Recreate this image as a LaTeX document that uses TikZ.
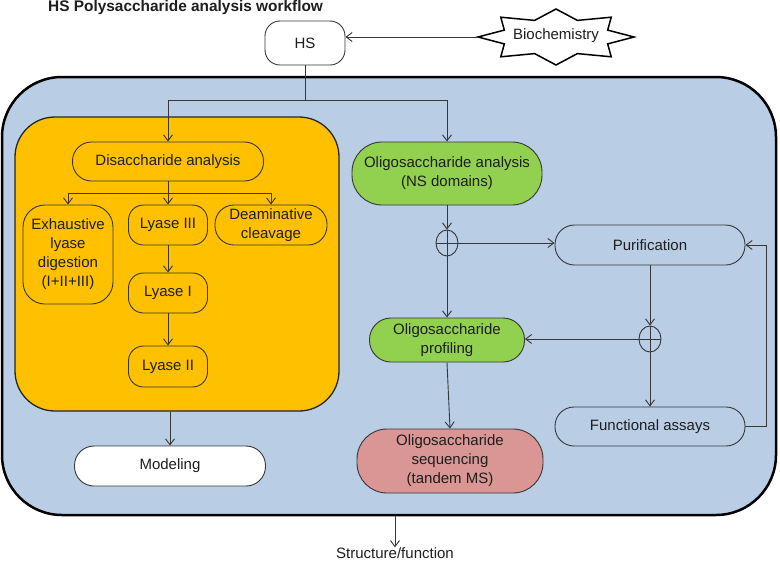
\documentclass[tikz,border=0pt]{standalone}
\usepackage{fontspec}
\setmainfont{Liberation Sans}
\usetikzlibrary{arrows.meta,shapes.geometric,calc}
\definecolor{bluebg}{RGB}{185,205,229}
\definecolor{orangebg}{RGB}{255,192,0}
\definecolor{greenbg}{RGB}{146,208,80}
\definecolor{rosebg}{RGB}{217,150,148}
\definecolor{linegray}{RGB}{55,55,55}
\definecolor{txt}{RGB}{30,30,30}
\begin{document}
\begin{tikzpicture}[x=1pt,y=-1pt,
  every node/.style={font=\fontsize{15}{19}\selectfont, text=txt, align=center, inner sep=0pt},
  box/.style={draw=linegray, line width=0.9pt, rectangle, rounded corners=#1},
  box/.default=19.5pt,
  conn/.style={draw=linegray, line width=0.9pt},
  arr/.style={conn, -{Straight Barb[length=6pt,width=9pt]}},
  plus/.style={draw=linegray, line width=0.9pt, ellipse, minimum width=22pt, minimum height=26pt}
]
\useasboundingbox (0,0) rectangle (780,563);

% title
\node[font=\bfseries\fontsize{15.4}{18}\selectfont, anchor=base west] (title) at (48,11) {HS Polysaccharide analysis workflow};

% background containers
\node[draw=black, line width=2.5pt, fill=bluebg, rounded corners=60pt, minimum width=774pt, minimum height=438pt] (blue) at (389,296) {};
\node[draw=black!85, line width=1.3pt, fill=orangebg, rounded corners=40pt, minimum width=324pt, minimum height=294pt] (orange) at (177,264) {};

% HS and Biochemistry
\node[box=15pt, fill=white, minimum width=80pt, minimum height=44pt] (hs) at (305,43) {HS};
\draw[black, line width=1.5pt, fill=white]
  (634,37) -- (607.7,43.9) -- (611.2,56.8) -- (577.4,53.6) -- (556,65)
  -- (534.6,53.6) -- (500.8,56.8) -- (504.3,43.9) -- (478,37)
  -- (504.3,30.1) -- (500.8,17.2) -- (534.6,20.4) -- (556,9)
  -- (577.4,20.4) -- (611.2,17.2) -- (607.7,30.1) -- cycle;
\node (bio) at (556,36) {Biochemistry};
\coordinate (biotip) at (478,37);
\draw[arr] (biotip) -- (biotip -| hs.east);

% left branch: disaccharide analysis
\node[box=19pt, minimum width=191pt, minimum height=39pt] (disacc) at (168,161.5) {Disaccharide analysis};
\node[box=22pt, minimum width=90pt, minimum height=99pt] (exh) at (68,254.5) {Exhaustive\\lyase\\digestion\\(I+II+III)};
\node[box=15pt, minimum width=79pt, minimum height=40pt] (ly3) at (168,225) {Lyase III};
\node[box=19pt, minimum width=112pt, minimum height=40pt] (deam) at (271,225) {Deaminative\\cleavage};
\node[box=15pt, minimum width=79pt, minimum height=40pt] (ly1) at (168,293) {Lyase I};
\node[box=15pt, minimum width=79pt, minimum height=41pt] (ly2) at (168,366.5) {Lyase II};
\node[box, fill=white, minimum width=191pt, minimum height=40pt] (model) at (170,466) {Modeling};

% right branch: oligosaccharide analysis
\node[box=30pt, fill=greenbg, minimum width=190pt, minimum height=63pt] (oligo) at (447,173.5) {Oligosaccharide analysis\\(NS domains)};
\node[plus] (c1) at (447,243) {};
\node[box, minimum width=190pt, minimum height=40pt] (pur) at (650,245) {Purification};
\node[box=21.5pt, fill=greenbg, minimum width=155pt, minimum height=44pt] (prof) at (447,340) {Oligosaccharide\\profiling};
\node[plus] (c2) at (650,339) {};
\node[box=19pt, minimum width=190pt, minimum height=39pt] (func) at (650,426.5) {Functional assays};
\node[box=30pt, fill=rosebg, minimum width=186pt, minimum height=64pt] (seq) at (450,461) {Oligosaccharide\\sequencing\\(tandem MS)};
\node (sf) at (395,553) {Structure/function};

% connectors
\coordinate (split) at (305,100);
\draw[conn] (hs.south) -- (split);
\draw[arr] (split) -| (disacc.north);
\draw[arr] (split) -| (oligo.north);

\coordinate (split2) at (168,193);
\draw[conn] (disacc.south) -- (split2);
\draw[arr] (split2) -| (exh.north);
\draw[arr] (split2) -- (ly3.north);
\draw[arr] (split2) -| (deam.north);
\draw[arr] (ly3.south) -- (ly1.north);
\draw[arr] (ly1.south) -- (ly2.north);
\draw[arr] (model.north |- orange.south) -- (model.north);

\draw[arr] (oligo.south) -- (c1.north);
\draw[conn] (c1.north) -- (c1.south) (c1.west) -- (c1.east);
\draw[arr] (c1.east) -- (c1.east -| pur.west);
\draw[arr] (c1.south) -- (prof.north);
\draw[arr] (pur.south) -- (c2.north);
\draw[conn] (c2.north) -- (c2.south) (c2.west) -- (c2.east);
\draw[arr] (c2.west) -- (c2.west -| prof.east);
\draw[arr] (c2.south) -- (func.north);
\draw[arr] (func.east) -- ++(21,0) |- (pur.east);
\draw[arr] (prof.south) -- (seq.north);
\draw[arr] (sf.north |- blue.south) -- (sf.north);
\end{tikzpicture}
\end{document}
